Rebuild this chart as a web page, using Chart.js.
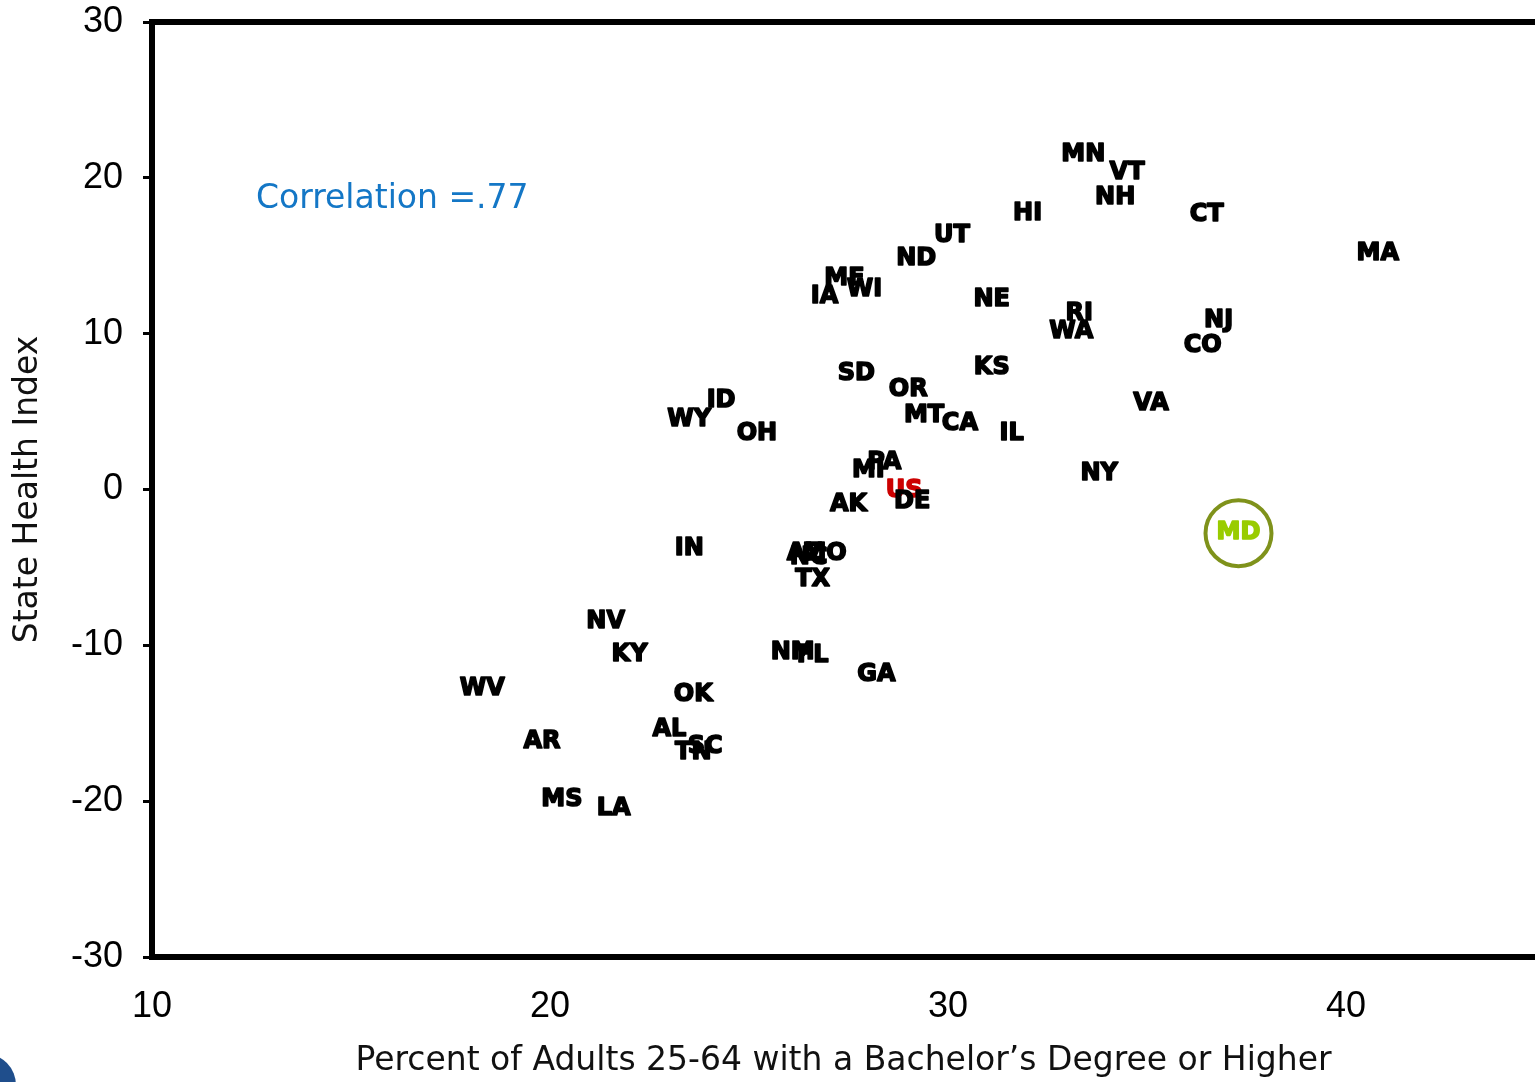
<!DOCTYPE html>
<html>
<head>
<meta charset="utf-8">
<script src="https://cdn.jsdelivr.net/npm/chart.js"></script>
<style>
  html, body { margin: 0; padding: 0; background: #fff; overflow: hidden; }
  #wrap { position: relative; width: 1535px; height: 1082px; }
  #corner { position: absolute; left: -46px; top: 1054px; width: 62px; height: 62px;
            border-radius: 50%; background: #1f4e8c; }
</style>
</head>
<body>
<div id="wrap">
  <canvas id="chart-container" width="1535" height="1082"></canvas>
  <div id="corner"></div>
</div>
<script>
// state abbreviations, % adults with bachelor's degree, state health index
var states = ['MN', 'VT', 'NH', 'HI', 'CT', 'MA', 'UT', 'ND', 'ME', 'IA', 'WI', 'NE', 'RI', 'WA', 'NJ', 'CO',
              'SD', 'OR', 'KS', 'ID', 'WY', 'OH', 'MT', 'CA', 'IL', 'VA', 'PA', 'MI', 'US', 'DE', 'AK', 'NY',
              'IN', 'AZ', 'NC', 'MO', 'TX', 'NV', 'KY', 'NM', 'FL', 'GA', 'WV', 'OK', 'AL', 'TN', 'SC', 'AR',
              'MS', 'LA'];
var bachelors = [33.4, 34.5, 34.2, 32.0, 36.5, 40.8, 30.1, 29.2, 27.4, 26.9, 27.9, 31.1, 33.3, 33.1, 36.8, 36.4,
                 27.7, 29.0, 31.1, 24.3, 23.5, 25.2, 29.4, 30.3, 31.6, 35.1, 28.4, 28.0, 28.9, 29.1, 27.5, 33.8,
                 23.5, 26.4, 26.5, 26.9, 26.6, 21.4, 22.0, 26.1, 26.6, 28.2, 18.3, 23.6, 23.0, 23.6, 23.9, 19.8,
                 20.3, 21.6];
var healthIndex = [21.5, 20.3, 18.7, 17.7, 17.6, 15.1, 16.3, 14.8, 13.5, 12.4, 12.8, 12.2, 11.3, 10.1, 10.8, 9.2,
                   7.4, 6.4, 7.8, 5.7, 4.5, 3.6, 4.7, 4.2, 3.6, 5.5, 1.7, 1.2, -0.1, -0.8, -1.0, 1.0,
                   -3.8, -4.1, -4.4, -4.1, -5.8, -8.5, -10.6, -10.5, -10.7, -11.9, -12.8, -13.2, -15.4, -16.9, -16.5, -16.2,
                   -19.9, -20.5];
var mdLabel = 'MD';
var mdBachelors = 37.3;
var mdHealth = -2.8;
var yTicks = [-30, -20, -10, 0, 10, 20, 30];
var xTicks = [10, 20, 30, 40];

var statePoints = states.map(function (s, i) {
    return { x: bachelors[i], y: healthIndex[i], label: s };
});

var labelFont = 'bold 24px "DejaVu Sans", Verdana, sans-serif';
var tickFont = { family: '"Liberation Sans Narrow", "Liberation Sans", Arial', size: 36 };

var stateLabels = {
    id: 'stateLabels',
    afterDatasetsDraw: function (chart) {
        var ctx = chart.ctx;
        ctx.save();
        ctx.font = labelFont;
        ctx.textAlign = 'center';
        ctx.textBaseline = 'middle';
        ctx.lineWidth = 1.6;
        ctx.lineJoin = 'round';
        chart.data.datasets.forEach(function (ds, di) {
            var meta = chart.getDatasetMeta(di);
            meta.data.forEach(function (pt, i) {
                var lbl = ds.data[i].label;
                var c = lbl === 'US' ? '#cc0000' : (lbl === 'MD' ? '#99cc00' : '#000');
                ctx.fillStyle = c;
                ctx.strokeStyle = c;
                ctx.strokeText(lbl, pt.x, pt.y);
                ctx.fillText(lbl, pt.x, pt.y);
            });
        });
        // top frame line and correlation note
        var a = chart.chartArea;
        ctx.strokeStyle = '#000';
        ctx.lineWidth = 6;
        ctx.beginPath();
        ctx.moveTo(a.left - 3, a.top);
        ctx.lineTo(a.right + 3, a.top);
        ctx.stroke();
        ctx.font = '33px "DejaVu Sans", Tahoma, sans-serif';
        ctx.fillStyle = '#1477c6';
        ctx.textAlign = 'left';
        ctx.fillText('Correlation =.77', 256, 199);
        ctx.restore();
    }
};

function noPad(scale) {
    scale.paddingTop = 0;
    scale.paddingBottom = 0;
    scale.paddingLeft = 0;
    scale.paddingRight = 0;
}

var ctx = document.getElementById('chart-container').getContext('2d');

var myChart = new Chart(ctx, {
    type: 'scatter',
    data: {
        datasets: [{
            data: statePoints,
            pointRadius: 0,
            pointHoverRadius: 0
        }, {
            data: [{ x: mdBachelors, y: mdHealth, label: mdLabel }],
            pointRadius: 33,
            pointBorderWidth: 4,
            borderColor: '#7f921b',
            backgroundColor: 'rgba(0,0,0,0)'
        }]
    },
    options: {
        responsive: false,
        animation: false,
        events: [],
        layout: { autoPadding: false, padding: { top: 22, right: 0, left: 0, bottom: 0 } },
        plugins: { legend: { display: false }, tooltip: { enabled: false } },
        scales: {
            x: {
                type: 'linear',
                min: 10,
                max: 44.75,
                afterBuildTicks: function (scale) {
                    scale.ticks = xTicks.map(function (v) { return { value: v }; });
                },
                afterFit: function (scale) { scale.height = 125; noPad(scale); },
                grid: { display: false, drawTicks: false },
                border: { display: true, color: '#000', width: 6 },
                ticks: {
                    color: '#000',
                    padding: 28,
                    maxRotation: 0,
                    font: tickFont
                },
                title: {
                    display: true,
                    text: 'Percent of Adults 25-64 with a Bachelor\u2019s Degree or Higher',
                    color: '#111',
                    padding: { top: 0, bottom: 1 },
                    font: { family: '"DejaVu Sans", Tahoma, sans-serif', size: 33 }
                }
            },
            y: {
                type: 'linear',
                min: -30,
                max: 30,
                afterBuildTicks: function (scale) {
                    scale.ticks = yTicks.map(function (v) { return { value: v }; });
                },
                afterFit: function (scale) { scale.width = 152; noPad(scale); },
                grid: { display: true, drawOnChartArea: false, drawTicks: true, tickLength: 9, lineWidth: 3, color: '#000' },
                border: { display: true, color: '#000', width: 6 },
                ticks: {
                    color: '#000',
                    padding: 20,
                    font: tickFont
                },
                title: {
                    display: true,
                    text: 'State Health Index',
                    color: '#111',
                    padding: { top: 9, bottom: 0 },
                    font: { family: '"DejaVu Sans", Tahoma, sans-serif', size: 33 }
                }
            }
        }
    },
    plugins: [stateLabels]
});
</script>
</body>
</html>
